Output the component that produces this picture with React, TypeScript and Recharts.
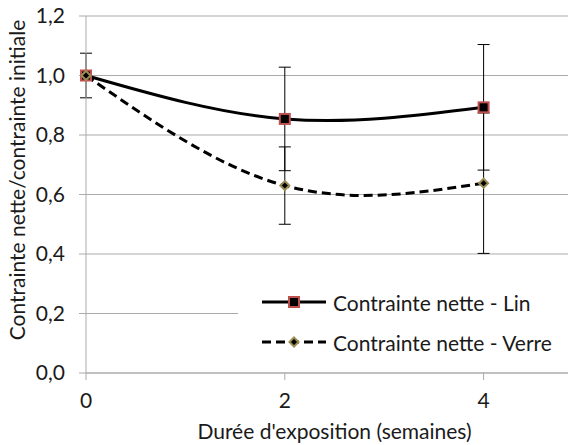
import React from 'react';
import { LineChart, Line, XAxis, YAxis, CartesianGrid, ErrorBar } from 'recharts';

// exposure duration (weeks) and normalised net stress
const weeks = [0, 2, 4];
const linValues = [1.0, 0.854, 0.893];
const linErrors = [0.075, 0.174, 0.211];
const verreValues = [1.0, 0.63, 0.638];
const verreErrors = [null, 0.13, 0.236];
const xTicks = [0, 2, 4];
const yTicks = [0, 0.2, 0.4, 0.6, 0.8, 1.0, 1.2];

const data = weeks.map((w, i) => ({
  week: w,
  lin: linValues[i],
  linErr: linErrors[i],
  verre: verreValues[i],
  verreErr: verreErrors[i],
}));

const FONT = 'Lato, "Noto Sans", sans-serif';
const FS = 21;
const TEXT = '#1a1a1a';
const GRID = '#ababab';
const DASH = '9 5';

const SquareDot = (props: any) => {
  const { cx, cy, index } = props;
  if (cx == null || cy == null) return null;
  return (
    <rect key={`sq-${index}`} x={cx - 5} y={cy - 5} width={10} height={10}
      fill="#000" stroke="#c0504d" strokeWidth={2} />
  );
};

const DiamondDot = (props: any) => {
  const { cx, cy, index } = props;
  if (cx == null || cy == null) return null;
  return (
    <polygon key={`dm-${index}`}
      points={`${cx},${cy - 4.5} ${cx + 4.5},${cy} ${cx},${cy + 4.5} ${cx - 4.5},${cy}`}
      fill="#000" stroke="#9a8c55" strokeWidth={2} />
  );
};

const legendItems = [
  { name: 'Contrainte nette - Lin', dash: undefined, marker: 'square' },
  { name: 'Contrainte nette - Verre', dash: DASH, marker: 'diamond' },
];

const LegendBox = () => (
  <div style={{
    position: 'absolute', left: 238, top: 282, width: 335, height: 80,
    background: '#fff', fontFamily: FONT, fontSize: FS, color: TEXT,
  }}>
    {legendItems.map((it, i) => (
      <div key={it.name} style={{
        position: 'absolute', left: 23, top: i * 40, height: 40,
        display: 'flex', alignItems: 'center', whiteSpace: 'nowrap',
      }}>
        <svg width={66} height={20} style={{ marginRight: 6 }}>
          <line x1={1} y1={10} x2={65} y2={10} stroke="#000" strokeWidth={3}
            strokeDasharray={it.dash} />
          {it.marker === 'square'
            ? <SquareDot cx={33} cy={10} index={0} />
            : <DiamondDot cx={33} cy={10} index={0} />}
        </svg>
        <span>{it.name}</span>
      </div>
    ))}
  </div>
);

const YLabel = () => (
  <text x={16} y={180} transform="rotate(-90 16 180)" textAnchor="middle"
    dominantBaseline="central" fill={TEXT} fontSize={FS} fontFamily={FONT}>
    Contrainte nette/contrainte initiale
  </text>
);

export default function App() {
  return (
    <div style={{ position: 'relative', margin: '-8px 0 0 -8px', width: 576, height: 445, overflow: 'hidden', background: '#fff' }}>
      <LineChart width={584} height={445} data={data}
        margin={{ top: 16, right: 1, bottom: 0, left: 0 }}>
        <CartesianGrid vertical={false} stroke={GRID} />
        <XAxis dataKey="week" type="number" domain={[0, 5]} ticks={xTicks}
          height={72} tickSize={7} tickMargin={13}
          axisLine={{ stroke: GRID }} tickLine={{ stroke: GRID }}
          tick={{ fill: TEXT, fontSize: FS, fontFamily: FONT }}
          label={{ value: "Durée d'exposition (semaines)", position: 'insideBottom', offset: 6,
            fill: TEXT, fontSize: FS, fontFamily: FONT }} />
        <YAxis type="number" domain={[0, 1.2]} ticks={yTicks} width={86}
          tickSize={7} tickMargin={14}
          axisLine={{ stroke: GRID }} tickLine={{ stroke: GRID }}
          tick={{ fill: TEXT, fontSize: FS, fontFamily: FONT }}
          tickFormatter={(v: number) => v.toFixed(1).replace('.', ',')}
          label={<YLabel />} />
        <Line type="natural" dataKey="lin" name="Contrainte nette - Lin"
          stroke="#000" strokeWidth={3} dot={SquareDot} activeDot={false}
          isAnimationActive={false}>
          <ErrorBar dataKey="linErr" width={6} stroke="#000" strokeWidth={1} direction="y" isAnimationActive={false} />
        </Line>
        <Line type="natural" dataKey="verre" name="Contrainte nette - Verre"
          stroke="#000" strokeWidth={3} strokeDasharray={DASH} dot={DiamondDot} activeDot={false}
          isAnimationActive={false}>
          <ErrorBar dataKey="verreErr" width={6} stroke="#000" strokeWidth={1} direction="y" isAnimationActive={false} />
        </Line>
      </LineChart>
      <LegendBox />
    </div>
  );
}
